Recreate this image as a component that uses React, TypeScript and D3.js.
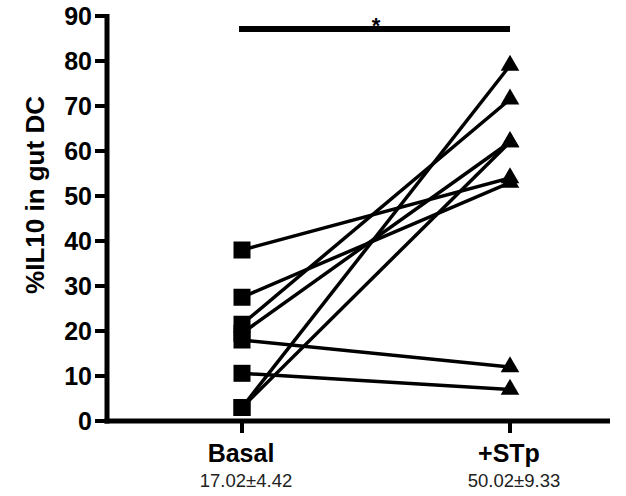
import React, { useEffect, useRef } from 'react';
import * as d3 from 'd3';

// paired values
const groups = ["Basal", "+STp"];
const groupStats = ["17.02±4.42", "50.02±9.33"];
const basal = [38, 27.5, 21.5, 19.5, 18, 10.6, 3, 3];
const stp = [54, 53, 71.5, 62, 12, 7, 79, 62];
const yTicks = [0, 10, 20, 30, 40, 50, 60, 70, 80, 90];
const yLabel = "%IL10 in gut DC";

const FONT = "'Liberation Sans', Arial, Helvetica, sans-serif";

const App = () => {
  const svgRef = useRef<SVGSVGElement>(null);

  useEffect(() => {
    const svg = d3.select(svgRef.current);
    svg.selectAll("*").remove();

    const axisX = 107;
    const axisRight = 610;

    const x = d3.scalePoint<string>().domain(groups).range([242, 510]);
    const y = d3.scaleLinear().domain([0, 90]).range([421, 16]);

    const g = svg.append("g");

    // y axis
    g.append("line")
      .attr("x1", axisX).attr("x2", axisX)
      .attr("y1", y(90) - 2).attr("y2", y(0) + 2.5)
      .attr("stroke", "#000").attr("stroke-width", 5);

    yTicks.forEach(t => {
      g.append("line")
        .attr("x1", axisX - 12).attr("x2", axisX)
        .attr("y1", y(t)).attr("y2", y(t))
        .attr("stroke", "#000").attr("stroke-width", 4);
      g.append("text")
        .attr("x", 92).attr("y", y(t))
        .attr("dy", "0.36em")
        .attr("text-anchor", "end")
        .style("font-family", FONT).style("font-weight", "bold").style("font-size", "25px")
        .text(t);
    });

    // x axis
    g.append("line")
      .attr("x1", axisX - 2.5).attr("x2", axisRight)
      .attr("y1", y(0)).attr("y2", y(0))
      .attr("stroke", "#000").attr("stroke-width", 5);

    groups.forEach((grp, i) => {
      const cx = x(grp)!;
      g.append("line")
        .attr("x1", cx).attr("x2", cx)
        .attr("y1", y(0)).attr("y2", y(0) + 12)
        .attr("stroke", "#000").attr("stroke-width", 4);
      g.append("text")
        .attr("x", cx - 1).attr("y", 462)
        .attr("text-anchor", "middle")
        .style("font-family", FONT).style("font-weight", "bold").style("font-size", "25px")
        .text(grp);
      g.append("text")
        .attr("x", cx + 4).attr("y", 487)
        .attr("text-anchor", "middle")
        .style("font-family", FONT).style("font-size", "18.5px").style("fill", "#222")
        .text(groupStats[i]);
    });

    // y label
    g.append("text")
      .attr("transform", `translate(44,195) rotate(-90)`)
      .attr("text-anchor", "middle")
      .style("font-family", FONT).style("font-weight", "bold").style("font-size", "26px")
      .text(yLabel);

    // paired lines
    basal.forEach((b, i) => {
      g.append("line")
        .attr("x1", x(groups[0])!).attr("y1", y(b))
        .attr("x2", x(groups[1])!).attr("y2", y(stp[i]))
        .attr("stroke", "#000").attr("stroke-width", 3.5);
    });

    // markers
    g.selectAll("rect.sq")
      .data(basal)
      .enter().append("rect")
      .attr("class", "sq")
      .attr("x", x(groups[0])! - 8.5)
      .attr("y", d => y(d) - 8.5)
      .attr("width", 17).attr("height", 17)
      .attr("fill", "#000");

    const tri = d3.symbol().type(d3.symbolTriangle).size(150);
    g.selectAll("path.tri")
      .data(stp)
      .enter().append("path")
      .attr("class", "tri")
      .attr("transform", d => `translate(${x(groups[1])},${y(d)})`)
      .attr("d", tri)
      .attr("fill", "#000");

    // significance bar
    g.append("line")
      .attr("x1", x(groups[0])! - 3).attr("x2", x(groups[1])!)
      .attr("y1", 29).attr("y2", 29)
      .attr("stroke", "#000").attr("stroke-width", 6);
    g.append("text")
      .attr("x", (x(groups[0])! + x(groups[1])!) / 2).attr("y", 33)
      .attr("text-anchor", "middle")
      .style("font-family", FONT).style("font-weight", "bold").style("font-size", "22px")
      .text("*");
  }, []);

  return (
    <svg
      ref={svgRef}
      width={626}
      height={496}
      style={{ position: "absolute", left: 0, top: 0, background: "#fff" }}
    />
  );
};

export default App;
